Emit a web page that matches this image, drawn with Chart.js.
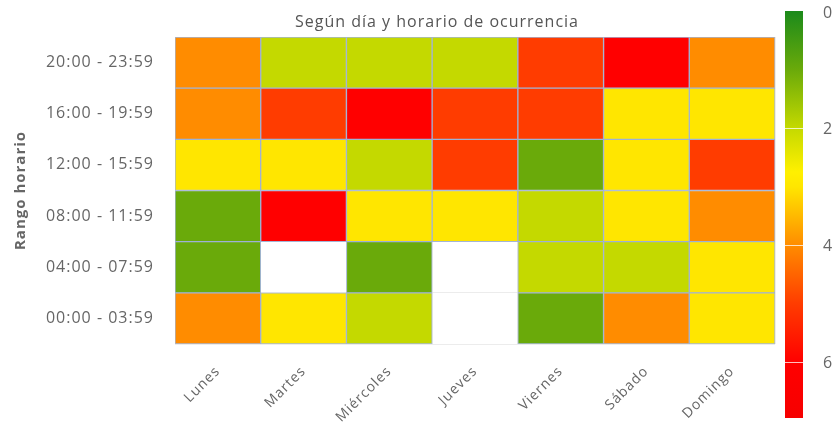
<!DOCTYPE html>
<html>
<head>
<meta charset="utf-8">
<script src="https://cdn.jsdelivr.net/npm/chart.js@4"></script>
<style>
html,body{margin:0;padding:0;background:#fff;overflow:hidden}
canvas{display:block}
</style>
</head>
<body>
<canvas id="c" width="838" height="422"></canvas>
<script>
// ---- data ----
const titleText = 'Según día y horario de ocurrencia';
const yAxisTitle = 'Rango horario';
const days = ['Lunes', 'Martes', 'Miércoles', 'Jueves', 'Viernes', 'Sábado', 'Domingo'];
// bottom row first
const timeRanges = ['00:00 - 03:59', '04:00 - 07:59', '08:00 - 11:59', '12:00 - 15:59', '16:00 - 19:59', '20:00 - 23:59'];
const v0000 = [4, 3, 2, null, 1, 4, 3];
const v0400 = [1, null, 1, null, 2, 2, 3];
const v0800 = [1, 6, 3, 3, 2, 3, 4];
const v1200 = [3, 3, 2, 5, 1, 3, 5];
const v1600 = [4, 5, 6, 5, 5, 3, 3];
const v2000 = [4, 2, 2, 2, 5, 6, 4];
const rowValues = [v0000, v0400, v0800, v1200, v1600, v2000];
const colorTicks = [0, 2, 4, 6];
const colorMin = 0;
const colorMax = 6.95;

// ---- colour scale (style) ----
const colorStops = [
  [0, '#1b8a1b'], [1, '#6aaa0a'], [2, '#c4d900'], [2.75, '#fff000'],
  [3, '#ffe600'], [4, '#ff8c00'], [5, '#ff3c00'], [6, '#ff0000'], [7, '#f60000']
];
function hexToRgb(h) { const n = parseInt(h.slice(1), 16); return [(n >> 16) & 255, (n >> 8) & 255, n & 255]; }
function colorFor(v) {
  for (let i = 0; i < colorStops.length - 1; i++) {
    const [a, ca] = colorStops[i], [b, cb] = colorStops[i + 1];
    if (v >= a && v <= b) {
      const t = (v - a) / (b - a), A = hexToRgb(ca), B = hexToRgb(cb);
      return 'rgb(' + A.map((x, k) => Math.round(x + (B[k] - x) * t)).join(',') + ')';
    }
  }
  return colorStops[colorStops.length - 1][1];
}

const LS = '1px';
const decor = {
  id: 'decor',
  beforeUpdate(chart) { chart.ctx.letterSpacing = LS; },
  beforeDraw(chart) { chart.ctx.letterSpacing = LS; },
  afterDraw(chart) {
    const ctx = chart.ctx;
    ctx.save();
    ctx.letterSpacing = LS;
    // title
    ctx.font = '16px "Open Sans"';
    ctx.fillStyle = '#555';
    ctx.textAlign = 'center';
    ctx.textBaseline = 'alphabetic';
    ctx.fillText(titleText, 437, 27);
    // colour bar
    const x0 = 785, w = 18, top = 11, bottom = 418;
    const unit = (bottom - top) / (colorMax - colorMin);
    const yOf = v => top + (v - colorMin) * unit;
    const grad = ctx.createLinearGradient(0, top, 0, bottom);
    colorStops.forEach(([v, c]) => {
      const p = (v - colorMin) / (colorMax - colorMin);
      grad.addColorStop(Math.min(1, Math.max(0, p)), c);
    });
    ctx.fillStyle = grad;
    ctx.fillRect(x0, top, w, bottom - top);
    ctx.strokeStyle = 'rgba(255,255,255,0.75)';
    ctx.lineWidth = 1;
    ctx.font = '16px "Open Sans"';
    ctx.fillStyle = '#666';
    ctx.textAlign = 'left';
    ctx.textBaseline = 'middle';
    colorTicks.forEach(t => {
      const y = Math.round(yOf(t)) + 0.5;
      if (t > colorMin) {
        ctx.beginPath(); ctx.moveTo(x0, y); ctx.lineTo(x0 + w, y); ctx.stroke();
      }
      ctx.fillText(String(t), 823, Math.max(y + 1, 13));
    });
    ctx.restore();
  }
};

const datasets = rowValues.map((vals, r) => ({
  label: timeRanges[r],
  yAxisID: 'y',
  data: vals.map(v => v == null ? null : [r - 0.5, r + 0.5]),
  backgroundColor: vals.map(v => v == null ? 'rgba(0,0,0,0)' : colorFor(v)),
  borderColor: 'rgba(150,172,210,0.85)',
  borderWidth: 1,
  borderSkipped: false,
  grouped: false,
  barPercentage: 1,
  categoryPercentage: 1
}));

new Chart(document.getElementById('c'), {
  type: 'bar',
  data: { labels: days, datasets },
  plugins: [decor],
  options: {
    responsive: false,
    animation: false,
    events: [],
    layout: { padding: { top: 37, right: 63, left: 0, bottom: 0 } },
    plugins: { legend: { display: false }, tooltip: { enabled: false }, title: { display: false } },
    scales: {
      x: {
        type: 'category',
        offset: true,
        grid: { offset: true, color: '#ececec', drawTicks: false },
        border: { display: false },
        ticks: {
          color: '#666', font: { family: 'Open Sans', size: 14 },
          minRotation: 45, maxRotation: 45, autoSkip: false, padding: 19
        },
        afterFit: s => { s.height = 78; }
      },
      y: {
        type: 'linear', position: 'left', min: -0.5, max: 5.5,
        grid: { display: false },
        border: { display: false },
        afterBuildTicks: s => { s.ticks = timeRanges.map((_, i) => ({ value: i })); },
        ticks: {
          color: '#666', font: { family: 'Open Sans', size: 16 }, padding: 13,
          callback: v => timeRanges[Math.round(v)]
        },
        title: {
          display: true, text: yAxisTitle, color: '#666',
          font: { family: 'Open Sans', size: 15, weight: 'bold' },
          padding: { top: 12, bottom: 0 }
        },
        afterFit: s => { s.width = 175; }
      },
      y2: {
        type: 'linear', position: 'left', min: -0.5, max: 5.5,
        grid: { color: '#ececec', drawTicks: false },
        border: { display: false },
        ticks: { display: false },
        afterBuildTicks: s => { s.ticks = [-0.5, 0.5, 1.5, 2.5, 3.5, 4.5, 5.5].map(v => ({ value: v })); },
        afterFit: s => { s.width = 0; }
      }
    }
  }
});
</script>
</body>
</html>
